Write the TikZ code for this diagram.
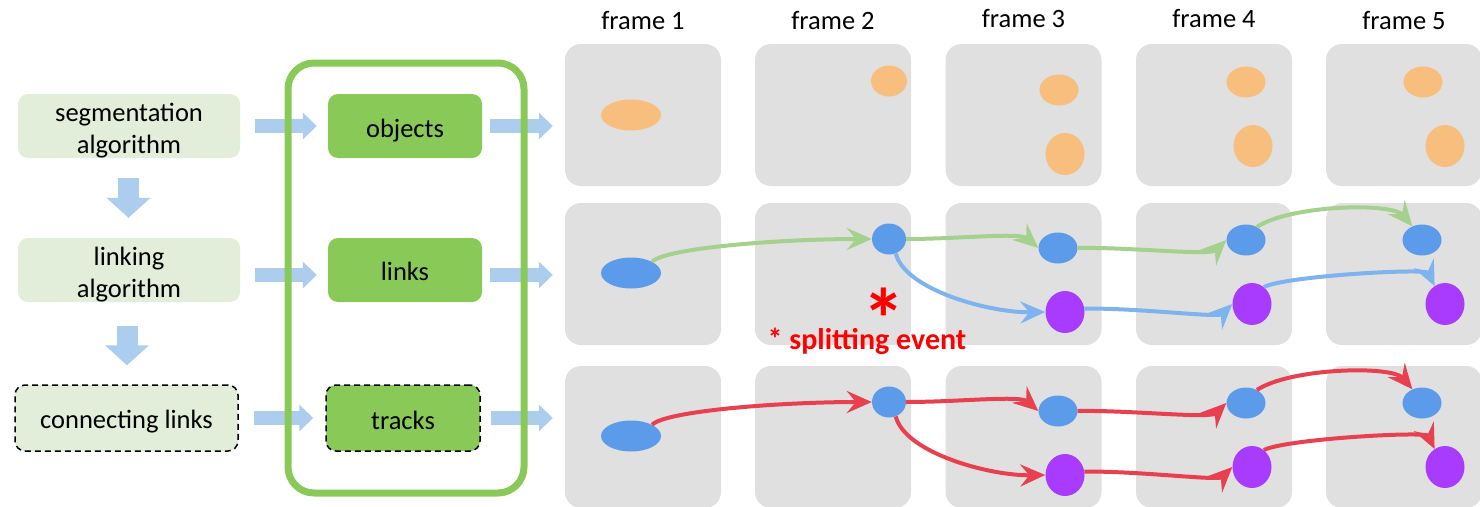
\documentclass[tikz,border=0pt]{standalone}
\usepackage{fontspec}
\setmainfont{Carlito}
\usetikzlibrary{arrows.meta,shapes.geometric}
\definecolor{framegray}{HTML}{E0E0E0}
\definecolor{leftgreen}{HTML}{E2EDDA}
\definecolor{innergreen}{HTML}{88C957}
\definecolor{blockblue}{HTML}{ACCDEE}
\definecolor{orangeblob}{HTML}{F8BE7E}
\definecolor{blueblob}{HTML}{5B9BEA}
\definecolor{purpleblob}{HTML}{A93BFE}
\definecolor{lgreen}{HTML}{A5D18E}
\definecolor{lblue}{HTML}{7DB3EE}
\definecolor{lred}{HTML}{E8404E}
\definecolor{txtred}{HTML}{FF0000}
\begin{document}
\begin{tikzpicture}[x=1pt,y=-1pt,
  txt/.style={font=\fontsize{26.5}{32}\selectfont, align=center, inner sep=0pt},
  framebox/.style={fill=framegray, rounded corners=16pt, minimum width=156pt, minimum height=142pt, inner sep=0pt},
  title/.style={txt},
  leftbox/.style={fill=leftgreen, rounded corners=10pt, minimum width=222pt, minimum height=64pt, inner sep=0pt},
  innerbox/.style={fill=innergreen, rounded corners=10pt, minimum width=154pt, minimum height=64pt, inner sep=0pt},
  dashbox/.style={draw=black, line width=1.5pt, dash pattern=on 6pt off 4pt, minimum height=66pt},
  blob/.style={ellipse, inner sep=0pt},
  ob/.style={blob, fill=orangeblob},
  bb/.style={blob, fill=blueblob},
  pb/.style={blob, fill=purpleblob},
  small/.style={minimum width=39pt, minimum height=31pt},
  big/.style={minimum width=39pt, minimum height=42pt},
  blockright/.style={draw=blockblue, line width=14pt, -{Triangle[length=14pt,width=26pt]}},
  blockdown/.style={draw=blockblue, line width=21pt, -{Triangle[length=20pt,width=43pt]}},
  link/.style={line width=4pt, -{Stealth[length=25pt,width=22pt,inset=9pt]}},
]
\useasboundingbox (0,0) rectangle (1480,506);
\clip (0,0) rectangle (1480,506);

% frame titles
\node[title] (t1) at (643,20.5) {frame 1};
\node[title] (t2) at (833,20.5) {frame 2};
\node[title] (t3) at (1023.5,18.5) {frame 3};
\node[title] (t4) at (1214,18.5) {frame 4};
\node[title] (t5) at (1404,21) {frame 5};

% frames
\foreach \c/\x in {1/643,2/833,3/1023.5,4/1214,5/1404}{
  \node[framebox] (fa\c) at (\x,115) {};
  \node[framebox] (fb\c) at (\x,274) {};
  \node[framebox] (fc\c) at (\x,437) {};
}

% objects row
\node[ob, minimum width=60pt, minimum height=31pt] (o1) at (631,115) {};
\node[ob, minimum width=36pt, minimum height=31pt] (o2) at (889,81) {};
\node[ob, small] (o3a) at (1059,90) {};
\node[ob, big] (o3b) at (1065,154) {};
\node[ob, small] (o4a) at (1246,82) {};
\node[ob, big] (o4b) at (1253,146) {};
\node[ob, small] (o5a) at (1423,82) {};
\node[ob, big] (o5b) at (1445,146) {};

% links / tracks rows
\foreach \r/\dy/\ca/\cb in {b/0/lgreen/lblue, c/163/lred/lred}{
  \node[bb, minimum width=60pt, minimum height=31pt] (e1\r) at (631,273+\dy) {};
  \node[bb, minimum width=34pt, minimum height=31pt] (e2\r) at (889,239+\dy) {};
  \node[bb, small] (e3a\r) at (1058,248+\dy) {};
  \node[pb, big] (e3b\r) at (1065,312+\dy) {};
  \node[bb, small] (e4a\r) at (1246,240+\dy) {};
  \node[pb, big] (e4b\r) at (1252,304+\dy) {};
  \node[bb, small] (e5a\r) at (1422,240+\dy) {};
  \node[pb, big] (e5b\r) at (1445,304+\dy) {};
  \draw[link, \ca] (e1\r.28) .. controls (665,248+\dy) and (780,239+\dy) .. (e2\r.west);
  \draw[link, \ca] (e2\r.east) .. controls (960,239+\dy) and (1020,232+\dy) .. (e3a\r.west);
  \draw[link, \ca] (e3a\r.east) .. controls (1130,247+\dy) and (1210,256+\dy) .. (e4a\r.west);
  \draw[link, \ca] (e4a\r.50) .. controls (1290,205+\dy) and (1392,202+\dy) .. (e5a\r.125);
  \draw[link, \cb] (e2\r.-65) .. controls (905,290+\dy) and (990,313+\dy) .. (e3b\r.west);
  \draw[link, \cb] (e3b\r.10) .. controls (1140,308+\dy) and (1218,318+\dy) .. (e4b\r.west);
  \draw[link, \cb] (e4b\r.55) .. controls (1285,276+\dy) and (1426,268+\dy) .. (e5b\r.120);
}

% splitting event
\node[text=txtred, font=\bfseries\fontsize{86}{86}\selectfont, inner sep=0pt] (ast) at (884,298.5) {\raisebox{-0.42em}[0.34em][0pt]{*}};
\node[text=txtred, font=\bfseries\fontsize{30}{32}\selectfont, inner sep=0pt, anchor=base] (split) at (867,349) {* splitting event};

% left column
\node[leftbox] (seg) at (129,126) {};
\node[leftbox] (lk) at (129,270) {};
\node[leftbox, dashbox, minimum width=223pt] (cl) at (126.5,418) {};
\node[txt] (segt) at ([yshift=-4.5pt]seg.center) {segmentation\\algorithm};
\node[txt] (lkt) at ([yshift=-4.5pt]lk.center) {linking\\algorithm};
\node[txt, anchor=base] (clt) at ([yshift=-10.5pt]cl.center) {connecting links};

% inner boxes
\node[innerbox] (obj) at (405,126) {};
\node[innerbox] (lnk) at (405,270) {};
\node[innerbox, dashbox] (trk) at (403,418) {};
\node[txt, anchor=base] (objt) at ([yshift=-11pt]obj.center) {objects};
\node[txt, anchor=base] (lnkt) at ([yshift=-10.5pt]lnk.center) {links};
\node[txt, anchor=base] (trkt) at ([yshift=-11.5pt]trk.center) {tracks};

% down arrows
\draw[blockdown, shorten <=20pt, shorten >=20pt] ([xshift=-0.5pt]seg.south) -- ([xshift=-0.5pt]lk.north);
\draw[blockdown, shorten <=24pt, shorten >=19pt] ([xshift=-2pt]lk.south) -- ([xshift=0.5pt]cl.north);

% right arrows
\draw[blockright, shorten <=15pt, shorten >=11pt] (seg.east) -- (obj.west);
\draw[blockright, shorten <=15pt, shorten >=11pt] ([yshift=-5pt]lk.east) -- ([yshift=-5pt]lnk.west);
\draw[blockright, shorten <=15pt, shorten >=12pt] (cl.east) -- (trk.west);
\draw[blockright, shorten <=8pt, shorten >=12pt] (obj.east) -- (obj.east -| fa1.west);
\draw[blockright, shorten <=8pt, shorten >=12pt] ([yshift=-5pt]lnk.east) -- ([yshift=-5pt]lnk.east -| fb1.west);
\draw[blockright, shorten <=10pt, shorten >=12pt] (trk.east) -- (trk.east -| fc1.west);

% outer group
\node[draw=innergreen, line width=7pt, rounded corners=26pt, minimum width=236pt, minimum height=430pt, inner sep=0pt] (outer) at (406,278) {};
\end{tikzpicture}
\end{document}
